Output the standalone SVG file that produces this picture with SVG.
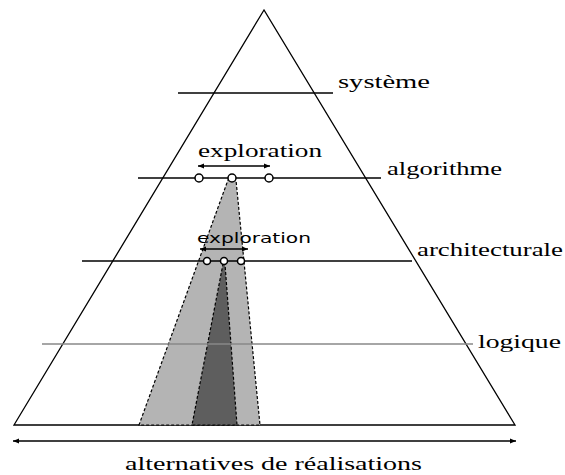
<svg xmlns="http://www.w3.org/2000/svg" width="565" height="475" viewBox="0 0 565 475">
<style>
.lvl{stroke:#000;stroke-width:1.3;fill:none}
.lbl{font-family:"Liberation Serif","DejaVu Serif",serif;font-size:19px;fill:#000}
.sans{font-family:"DejaVu Sans","Liberation Sans",sans-serif;font-size:14px;fill:#000}
.wedge{stroke:#000;stroke-width:1.2;stroke-dasharray:3 2}
.pt{fill:#fff;stroke:#000;stroke-width:1.5}
.arr{stroke:#000;stroke-width:1.3;fill:none}
</style>
<defs>
<marker id="ah" viewBox="0 0 10 10" refX="10" refY="5" markerWidth="8" markerHeight="6" orient="auto-start-reverse" markerUnits="userSpaceOnUse">
<path d="M0,1 L10,5 L0,9 z" fill="#000"/>
</marker>
</defs>
<rect width="565" height="475" fill="#fff"/>
<g id="pyramid">
<polygon points="264,10 14,425 515,425" fill="#fff" stroke="#000" stroke-width="1.3"/>
</g>
<g id="wedges">
<polygon class="wedge" points="228,180 236,180 260,425 139,425" fill="#b4b4b4"/>
<polygon class="wedge" points="223,264 225,264 237,425 192,425" fill="#5e5e5e"/>
</g>
<g id="systeme">
<line class="lvl" x1="178" y1="93" x2="333" y2="93"/>
<text class="lbl" x="338" y="88" textLength="92" lengthAdjust="spacingAndGlyphs">système</text>
</g>
<g id="algorithme">
<line class="lvl" x1="138" y1="178" x2="381" y2="178"/>
<text class="lbl" x="387" y="175" textLength="115" lengthAdjust="spacingAndGlyphs">algorithme</text>
</g>
<g id="architecturale">
<line class="lvl" x1="82" y1="261" x2="412" y2="261"/>
<text class="lbl" x="417" y="256" textLength="146" lengthAdjust="spacingAndGlyphs">architecturale</text>
</g>
<g id="logique">
<line x1="42" y1="344" x2="473" y2="344" stroke="#888" stroke-width="1.6"/>
<text class="lbl" x="478" y="348" textLength="83" lengthAdjust="spacingAndGlyphs">logique</text>
</g>
<g id="exploration-algo">
<text class="lbl" x="198" y="157" textLength="124" lengthAdjust="spacingAndGlyphs">exploration</text>
<circle class="pt" cx="199" cy="178" r="4"/>
<circle class="pt" cx="232" cy="178" r="4"/>
<circle class="pt" cx="269" cy="178" r="4"/>
</g>
<g id="exploration-archi">
<text class="sans" x="197" y="243" textLength="114" lengthAdjust="spacingAndGlyphs">exploration</text>
<circle class="pt" cx="207" cy="261" r="3.5"/>
<circle class="pt" cx="224" cy="261" r="3.5"/>
<circle class="pt" cx="241" cy="261" r="3.5"/>
</g>
<g id="alternatives">
<text class="lbl" x="125" y="470" textLength="297" lengthAdjust="spacingAndGlyphs">alternatives de réalisations</text>
</g>
<g id="connectors">
<line class="arr" x1="198" y1="166" x2="270" y2="166" marker-start="url(#ah)" marker-end="url(#ah)"/>
<line class="arr" x1="200" y1="249" x2="248" y2="249" marker-start="url(#ah)" marker-end="url(#ah)"/>
<line class="arr" x1="13" y1="441" x2="516" y2="441" marker-start="url(#ah)" marker-end="url(#ah)"/>
</g>
</svg>
